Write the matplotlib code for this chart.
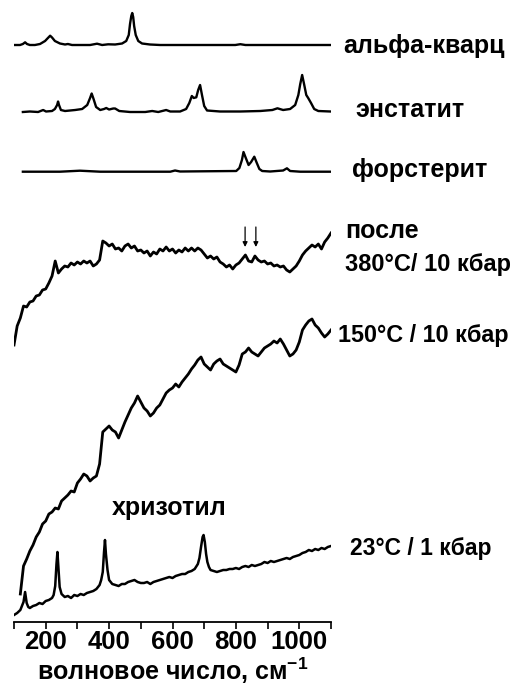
import numpy as np
import matplotlib
matplotlib.use("Agg")
import matplotlib.pyplot as plt
from matplotlib.ticker import MultipleLocator

plt.rcParams['font.family'] = ['Liberation Sans', 'DejaVu Sans']
plt.rcParams['font.weight'] = 'bold'
plt.rcParams['mathtext.fontset'] = 'custom'
plt.rcParams['mathtext.rm'] = 'Liberation Sans:bold'
plt.rcParams['mathtext.it'] = 'Liberation Sans:bold'
plt.rcParams['mathtext.bf'] = 'Liberation Sans:bold'

# ---- reference minerals (intensity incl. vertical offset, arb. units) ----
quartz_wn = [100, 119, 128, 135, 141, 150, 166, 182, 198, 207, 214, 220, 229, 245, 261,
             270, 283, 340, 362, 378, 397, 419, 441, 454, 462, 466, 470, 473, 476, 479,
             484, 492, 504, 529, 561, 798, 814, 830, 1098]
quartz_int = [577, 577, 578, 579.7, 578, 577, 577, 578, 581, 584, 586.3, 584.5, 581, 578.5, 577.5,
              578, 577, 577, 578.3, 577, 577.7, 577.5, 578.5, 581, 587, 598, 606, 609, 605, 596,
              587, 581, 578.5, 577.5, 577, 577, 577.8, 577, 577]

enst_wn = [128, 150, 176, 192, 201, 220, 229, 236, 239, 242, 248, 261, 293, 315, 331, 340,
           345, 351, 359, 372, 384, 391, 400, 413, 419, 432, 466, 514, 536, 555, 580, 593,
           624, 643, 653, 661, 667, 675, 681, 687, 693, 700, 709, 750, 814, 877, 915, 931,
           949, 971, 987, 997, 1003, 1009, 1015, 1022, 1028, 1037, 1047, 1060, 1098]
enst_int = [510, 510.5, 510, 512, 510.5, 511, 513, 517, 520.5, 517, 512, 511, 512, 513, 517, 524,
            528.5, 523, 515, 512, 513, 514, 512.5, 513.5, 513.5, 511, 510, 510, 511, 510, 512, 510.5,
            510.5, 513, 519, 526, 524, 524.7, 532, 537, 527, 516, 511.5, 510.5, 510.5, 511, 512, 513.7,
            512, 513, 517, 527, 538, 547, 538, 527, 524, 519, 513, 511, 510.5]

forst_wn = [128, 245, 308, 372, 593, 608, 624, 801, 811, 819, 824, 830, 840, 848, 858, 866,
            874, 883, 908, 949, 961, 971, 1003, 1098]
forst_int = [450.3, 450.3, 451.3, 450.3, 450.3, 451.5, 450.5, 451, 454, 462, 470, 465, 457, 460,
             465.3, 459, 453, 451, 450.5, 451.5, 453.7, 451, 450.3, 450.3]

# ---- chrysotile after 380 C / 10 kbar ----
s380_wn = list(range(100, 1101, 10))
s380_int = [277, 296, 304, 316, 315, 320, 321, 326, 327, 332, 333, 339, 346, 361, 349, 353,
            356, 355, 359, 357, 360, 358, 361, 359, 361, 356, 358, 362, 381, 379, 376, 378,
            373, 374, 371, 376, 378, 374, 376, 371, 372, 369, 371, 366, 370, 368, 373, 371,
            375, 371, 373, 369, 372, 370, 374, 371, 374, 371, 374, 372, 368, 364, 366, 363,
            365, 360, 358, 355, 357, 353, 357, 359, 363, 367, 361, 360, 366, 362, 360, 361,
            358, 359, 356, 357, 355, 356, 352, 350, 353, 356, 361, 367, 371, 374, 377, 375,
            378, 373, 380, 384, 389]

# ---- chrysotile at 150 C / 10 kbar ----
s150_wn = list(range(120, 1101, 10))
s150_int = [28, 56, 63, 71, 77, 85, 90, 98, 101, 108, 110, 114, 113, 121, 124, 127, 131, 130,
            139, 143, 148, 146, 141, 144, 146, 158, 190, 193, 196, 192, 190, 184, 192, 200,
            207, 214, 219, 226, 220, 214, 211, 206, 209, 214, 217, 223, 229, 232, 234, 238,
            235, 240, 244, 248, 253, 257, 262, 265, 258, 255, 252, 258, 261, 263, 258, 256,
            254, 252, 250, 257, 268, 270, 274, 270, 268, 266, 270, 274, 276, 278, 281, 279,
            283, 278, 272, 266, 268, 272, 280, 292, 297, 301, 303, 297, 294, 289, 285, 288, 292]

# ---- chrysotile at 23 C / 1 kbar ----
s23_wn = [100, 110, 120, 125, 130, 135, 140, 145, 150, 160, 170, 180, 190, 200, 210, 220,
          225, 230, 234, 237, 240, 244, 250, 260, 270, 280, 290, 300, 310, 320, 330, 340,
          350, 360, 370, 375, 380, 384, 387, 390, 395, 400, 410, 420, 430, 440, 450, 460,
          470, 480, 490, 500, 510, 520, 530, 540, 550, 560, 570, 580, 590, 600, 610, 620,
          630, 640, 650, 660, 670, 680, 685, 690, 695, 698, 702, 706, 710, 715, 720, 730,
          740, 750, 760, 770, 780, 790, 800, 810, 820, 830, 840, 850, 860, 870, 880, 890,
          900, 910, 920, 930, 940, 950, 960, 970, 980, 990, 1000, 1010, 1020, 1030, 1040,
          1050, 1060, 1070, 1080, 1090, 1100]
s23_int = [7, 9, 12, 16, 20, 30, 19, 15, 14, 16, 17, 19, 18, 21, 22, 24,
           27, 36, 58, 70, 55, 35, 28, 25, 26, 24, 27, 26, 28, 27, 29, 30,
           31, 33, 37, 42, 50, 70, 82, 68, 52, 42, 38, 37, 36, 38, 38, 40,
           41, 42, 40, 39, 39, 40, 38, 40, 41, 42, 43, 44, 45, 44, 46, 47,
           48, 48, 50, 51, 53, 58, 64, 75, 85, 87, 80, 68, 60, 55, 52, 51,
           50, 51, 52, 52, 53, 53, 54, 53, 55, 56, 55, 57, 56, 57, 58, 60,
           59, 61, 60, 61, 62, 63, 64, 63, 65, 66, 67, 69, 70, 72, 71,
           73, 72, 74, 73, 75, 76]

# marked forsterite bands in the 380 C spectrum
arrow_wn = [829, 863]

x_major = [200, 400, 600, 800, 1000]

fig = plt.figure(figsize=(5.20, 6.91), dpi=100)
ax = fig.add_axes([14 / 520, 69 / 691, 317 / 520, 622 / 691])

lw_smooth = 1.7
lw_noisy = 2.0
ax.plot(quartz_wn, quartz_int, color='black', lw=lw_smooth)
ax.plot(enst_wn, enst_int, color='black', lw=lw_smooth)
ax.plot(forst_wn, forst_int, color='black', lw=lw_smooth)
ax.plot(s380_wn, s380_int, color='black', lw=lw_noisy)
ax.plot(s150_wn, s150_int, color='black', lw=lw_noisy)
ax.plot(s23_wn, s23_int, color='black', lw=1.8)

for w in arrow_wn:
    ax.annotate('', xy=(w, 375), xytext=(w, 395),
                arrowprops=dict(arrowstyle='-|>', color='black', lw=0.9,
                                mutation_scale=7, shrinkA=0, shrinkB=0))

ax.set_xlim(100, 1100)
ax.set_ylim(0, 622)

for s in ['top', 'right', 'left']:
    ax.spines[s].set_visible(False)
ax.spines['bottom'].set_linewidth(1.3)
ax.set_yticks([])
ax.xaxis.set_major_locator(plt.FixedLocator(x_major))
ax.xaxis.set_minor_locator(MultipleLocator(100))
ax.tick_params(axis='x', which='both', direction='out', length=5, width=1.2, pad=1,
               labelsize=18.5)
for lab in ax.get_xticklabels():
    lab.set_fontweight('bold')
ax.set_xlabel('волновое число, см$^{\\mathrm{-1}}$', fontsize=18, fontweight='bold', labelpad=1)

labels = [
    ('альфа-кварц', 1139, 568.7, 18),
    ('энстатит', 1177, 505.3, 18),
    ('форстерит', 1167, 445.3, 18),
    ('после', 1145, 384.3, 18),
    ('380°C/ 10 кбар', 1145, 351, 17),
    ('150°C / 10 кбар', 1123, 280.3, 16.8),
    ('23°C / 1 кбар', 1161, 67, 16.5),
    ('хризотил', 409, 107, 18),
]
for txt, x, y, fs in labels:
    ax.text(x, y, txt, fontsize=fs, fontweight='bold', ha='left', va='baseline',
            clip_on=False)

fig.savefig('out.png', dpi=100)
